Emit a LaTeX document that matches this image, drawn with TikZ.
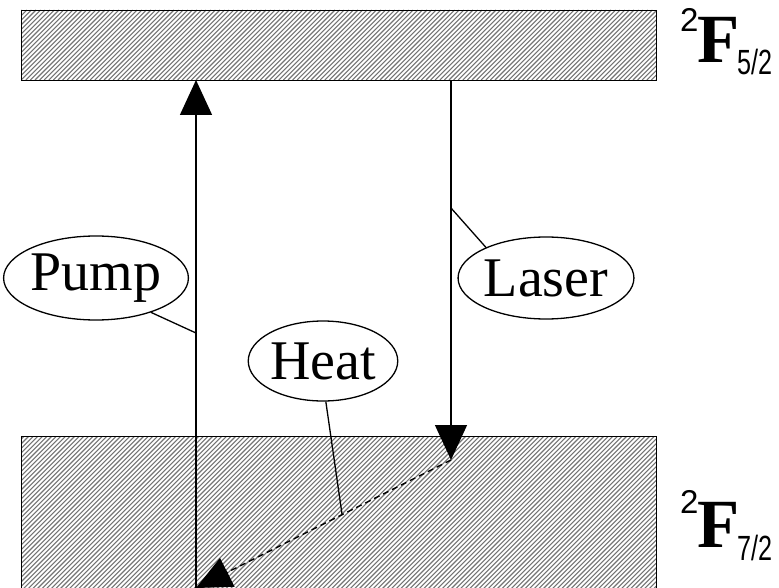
\documentclass[tikz,border=0pt]{standalone}
\usepackage{fontspec}
\setmainfont{Liberation Serif}
\newfontfamily\lsans{Liberation Sans}
\usetikzlibrary{arrows.meta,shapes.geometric}
\begin{document}
\begin{tikzpicture}[x=1pt,y=-1pt,
 hatch/.style={black!55,line width=1.1pt},
 level/.style={draw,line width=1.4pt,inner sep=0pt,anchor=north west},
 tr/.style={line width=1.4pt},
 arr/.style={tr,-{Triangle[length=35pt,width=32pt]}},
 heatarr/.style={tr,dash pattern=on 6pt off 4pt,-{Triangle[length=35pt,width=32pt]}},
 tag/.style={ellipse,draw,line width=1.3pt,inner sep=0pt,font=\fontsize{56}{60}\selectfont},
 lead/.style={line width=1.3pt},
 supl/.style={anchor=base west,inner sep=0pt,font=\lsans\fontsize{33}{33}\selectfont},
 bigF/.style={anchor=base west,inner sep=0pt,font=\bfseries\fontsize{69}{69}\selectfont},
 subl/.style={anchor=base west,inner sep=0pt,font=\lsans\fontsize{35}{35}\selectfont}]
\useasboundingbox (0,0) rectangle (779,588);

% hatching
\begin{scope}
\clip (21,10) rectangle (656,80);
\foreach \x in {-80,-75.4,...,660} \draw[hatch] (\x,80) -- (\x+70,10);
\end{scope}
\begin{scope}
\clip (21,436) rectangle (656,592);
\foreach \x in {-150,-145.4,...,660} \draw[hatch] (\x,592) -- (\x+156,436);
\end{scope}

% levels
\node[level,minimum width=635pt,minimum height=70pt] (upper) at (21,10) {};
\node[level,minimum width=635pt,minimum height=156pt] (lower) at (21,436) {};

% coordinates
\coordinate (pumpbot) at (196,588);
\coordinate (pumptop) at (196,80);
\coordinate (lasertop) at (451,80);
\coordinate (lasertip) at (451,460);
\coordinate (pumpjoin) at (196,333);
\coordinate (laserjoin) at (451,208);
\coordinate (heatjoin) at (342,514);

% transitions
\draw[arr] (pumpbot) -- (pumptop);
\draw[arr] (lasertop) -- (lasertip);
\draw[heatarr] (lasertip) -- (pumpbot);

% labels
\node[tag,minimum width=172pt,minimum height=84pt] (pump) at (96,278) {Pump};
\node[tag,minimum width=174pt,minimum height=82pt] (laser) at (546,278) {Laser};
\node[tag,minimum width=148pt,minimum height=80pt] (heat) at (323,361) {Heat};

\draw[lead] (pump.-32) -- (pumpjoin);
\draw[lead] (laser.153) -- (laserjoin);
\draw[lead] (heat.-86) -- (heatjoin);

% term symbols
\node[supl] (s1) at (680,32) {2};
\node[bigF] (f1) at (697,63) {F};
\node[subl] (j1) at (737,75) {\scalebox{0.72}[1]{5/2}};
\node[supl] (s2) at (680,513) {2};
\node[bigF] (f2) at (697,547) {F};
\node[subl] (j2) at (737,560) {\scalebox{0.72}[1]{7/2}};
\end{tikzpicture}
\end{document}
